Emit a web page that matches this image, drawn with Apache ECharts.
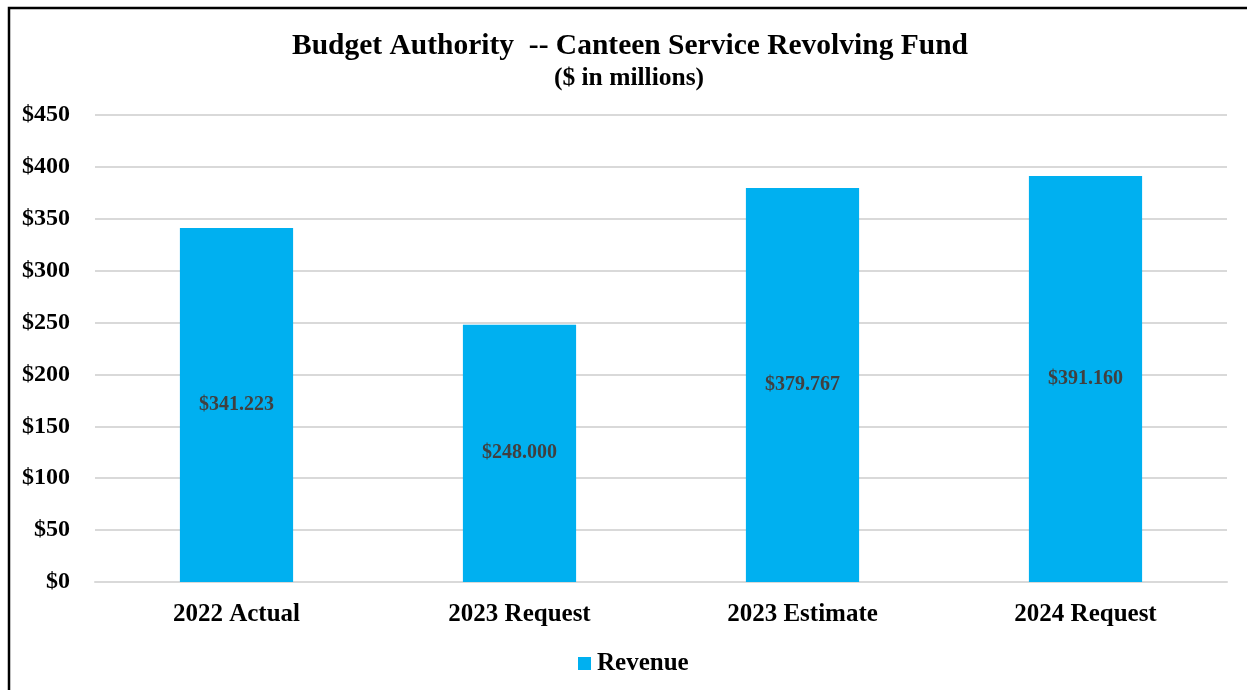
<!DOCTYPE html>
<html>
<head>
<meta charset="utf-8">
<script src="https://cdn.jsdelivr.net/npm/echarts@6/dist/echarts.min.js"></script>
<style>
  html, body { margin: 0; padding: 0; background: #ffffff; }
  #chart { width: 1247px; height: 690px; }
</style>
</head>
<body>
<div id="chart"></div>
<script>
// Budget authority by fiscal year ($ in millions)
const categories = ['2022 Actual', '2023 Request', '2023 Estimate', '2024 Request'];
const revenue = [341.223, 248.000, 379.767, 391.160];
const yTicks = [0, 50, 100, 150, 200, 250, 300, 350, 400, 450];

const serif = '"Liberation Serif", "Times New Roman", serif';
const chart = echarts.init(document.getElementById('chart'), null, { renderer: 'canvas' });

chart.setOption({
  animation: false,
  backgroundColor: '#ffffff',
  graphic: [{
    type: 'rect',
    shape: { x: 9, y: 8, width: 1300, height: 700 },
    style: { fill: 'none', stroke: '#000000', lineWidth: 2.5 },
    silent: true
  }],
  title: [{
    text: 'Budget Authority  -- Canteen Service Revolving Fund',
    left: 625, top: 26, textAlign: 'center',
    textStyle: { fontFamily: serif, fontWeight: 'bold', fontSize: 29.5, color: '#000000' }
  }, {
    text: '($ in millions)',
    left: 624, top: 60, textAlign: 'center',
    textStyle: { fontFamily: serif, fontWeight: 'bold', fontSize: 25.5, color: '#000000' }
  }],
  legend: {
    data: ['Revenue'],
    top: 646, left: 573,
    itemWidth: 13, itemHeight: 13, itemGap: 10,
    icon: 'rect',
    textStyle: { fontFamily: serif, fontWeight: 'bold', fontSize: 25, color: '#000000', padding: [0, 0, 0, 1] }
  },
  grid: { left: 95, right: 20, top: 115, bottom: 108, containLabel: false },
  xAxis: {
    type: 'category',
    data: categories,
    axisLine: { show: true, lineStyle: { color: '#d9d9d9', width: 2 } },
    axisTick: { show: false },
    axisLabel: { margin: 20, fontFamily: serif, fontWeight: 'bold', fontSize: 25, color: '#000000' }
  },
  yAxis: {
    type: 'value',
    min: yTicks[0], max: yTicks[yTicks.length - 1], interval: yTicks[1] - yTicks[0],
    axisLine: { show: false },
    axisTick: { show: false },
    splitLine: { lineStyle: { color: '#d9d9d9', width: 2 } },
    axisLabel: {
      margin: 25,
      fontFamily: serif, fontWeight: 'bold', fontSize: 24, color: '#000000',
      formatter: v => '$' + v
    }
  },
  series: [{
    name: 'Revenue',
    type: 'bar',
    data: revenue,
    barWidth: '40%',
    itemStyle: { color: '#00b0f0' },
    label: {
      show: true, position: 'inside',
      fontFamily: serif, fontWeight: 'bold', fontSize: 20, color: '#404040',
      formatter: p => '$' + p.value.toFixed(3)
    }
  }]
});
</script>
</body>
</html>
